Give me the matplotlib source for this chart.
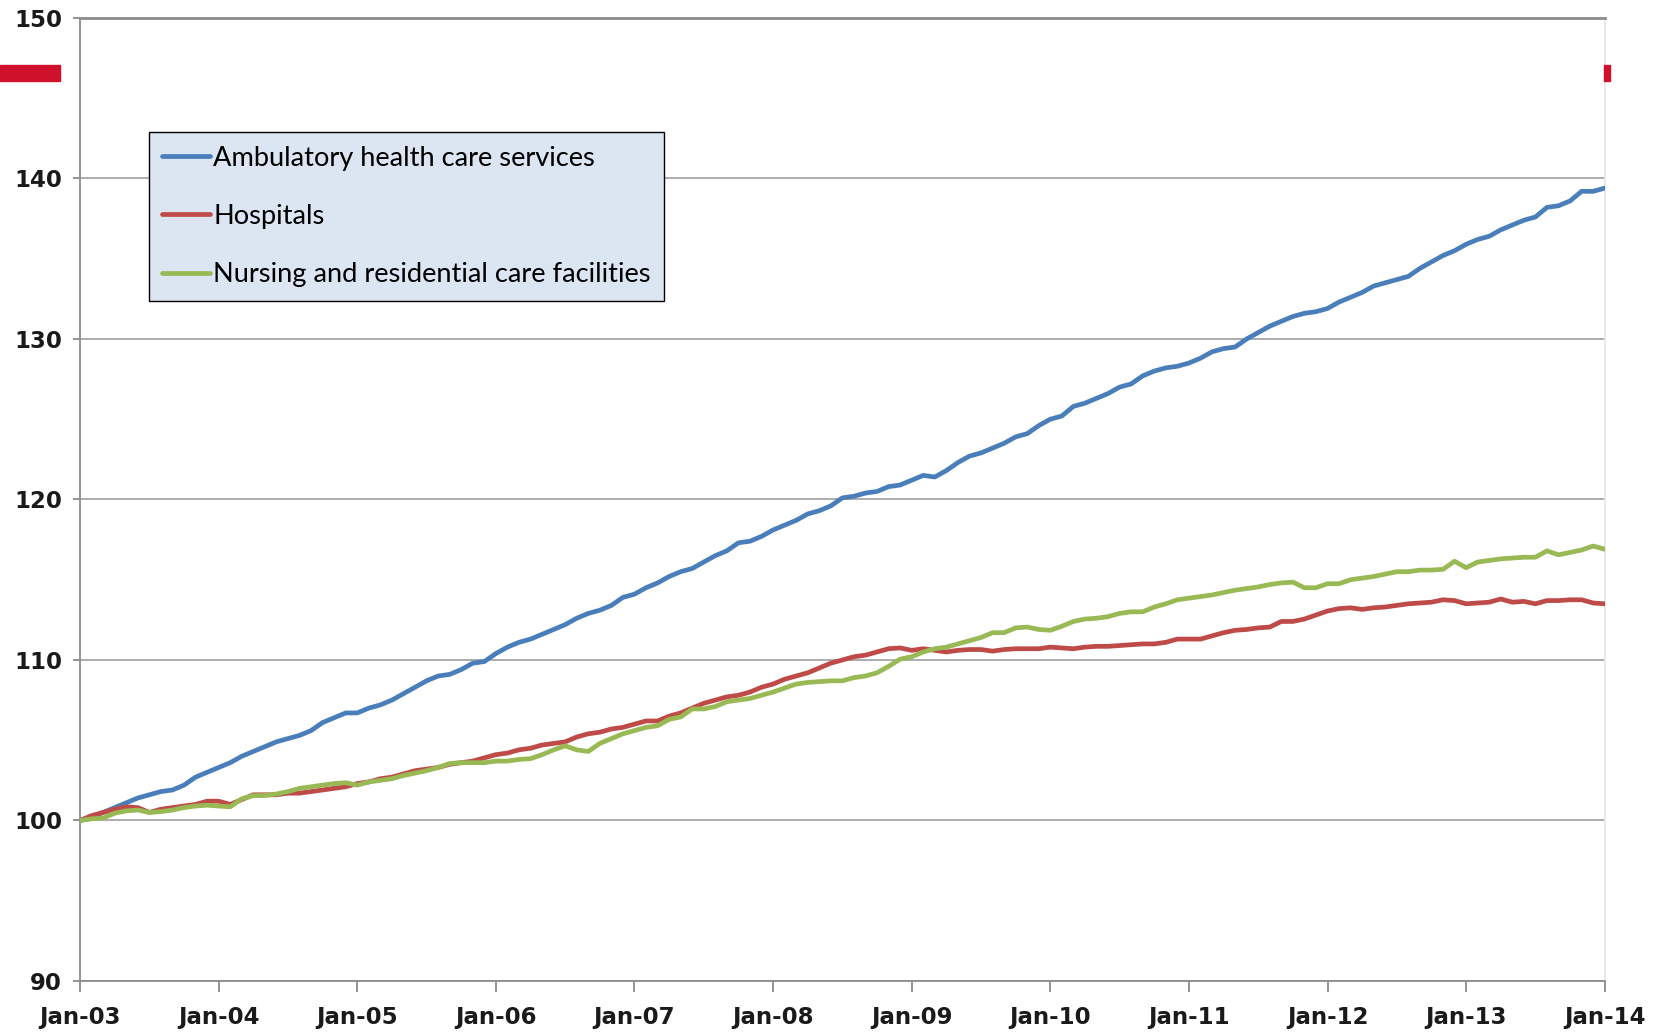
import matplotlib
matplotlib.use("Agg")
import matplotlib.pyplot as plt
from matplotlib.patches import Rectangle
import numpy as np

# Index values (Jan-03 = 100), monthly Jan-03 .. Jan-14
ambulatory = [
    100.0, 100.2, 100.5, 100.8, 101.1, 101.4, 101.6, 101.8, 101.9, 102.2,
    102.7, 103.0, 103.3, 103.6, 104.0, 104.3, 104.6, 104.9, 105.1, 105.3,
    105.6, 106.1, 106.4, 106.7, 106.7, 107.0, 107.2, 107.5, 107.9, 108.3,
    108.7, 109.0, 109.1, 109.4, 109.8, 109.9, 110.4, 110.8, 111.1, 111.3,
    111.6, 111.9, 112.2, 112.6, 112.9, 113.1, 113.4, 113.9, 114.1, 114.5,
    114.8, 115.2, 115.5, 115.7, 116.1, 116.5, 116.8, 117.3, 117.4, 117.7,
    118.1, 118.4, 118.7, 119.1, 119.3, 119.6, 120.1, 120.2, 120.4, 120.5,
    120.8, 120.9, 121.2, 121.5, 121.4, 121.8, 122.3, 122.7, 122.9, 123.2,
    123.5, 123.9, 124.1, 124.6, 125.0, 125.2, 125.8, 126.0, 126.3, 126.6,
    127.0, 127.2, 127.7, 128.0, 128.2, 128.3, 128.5, 128.8, 129.2, 129.4,
    129.5, 130.0, 130.4, 130.8, 131.1, 131.4, 131.6, 131.7, 131.9, 132.3,
    132.6, 132.9, 133.3, 133.5, 133.7, 133.9, 134.4, 134.8, 135.2, 135.5,
    135.9, 136.2, 136.4, 136.8, 137.1, 137.4, 137.6, 138.2, 138.3, 138.6,
    139.2, 139.2, 139.4,
]

hospitals = [
    100.0, 100.3, 100.5, 100.7, 100.85, 100.8, 100.5, 100.7, 100.8, 100.9,
    101.0, 101.2, 101.2, 101.0, 101.3, 101.6, 101.6, 101.6, 101.7, 101.7,
    101.8, 101.9, 102.0, 102.1, 102.3, 102.4, 102.6, 102.7, 102.9, 103.1,
    103.2, 103.3, 103.5, 103.6, 103.7, 103.9, 104.1, 104.2, 104.4, 104.5,
    104.7, 104.8, 104.9, 105.2, 105.4, 105.5, 105.7, 105.8, 106.0, 106.2,
    106.2, 106.5, 106.7, 107.0, 107.3, 107.5, 107.7, 107.8, 108.0, 108.3,
    108.5, 108.8, 109.0, 109.2, 109.5, 109.8, 110.0, 110.2, 110.3, 110.5,
    110.7, 110.75, 110.6, 110.7, 110.6, 110.5, 110.6, 110.65, 110.65, 110.55,
    110.65, 110.7, 110.7, 110.7, 110.8, 110.75, 110.7, 110.8, 110.85, 110.85,
    110.9, 110.95, 111.0, 111.0, 111.1, 111.3, 111.3, 111.3, 111.5, 111.7,
    111.85, 111.9, 112.0, 112.05, 112.4, 112.4, 112.55, 112.8, 113.05, 113.2,
    113.25, 113.15, 113.25, 113.3, 113.4, 113.5, 113.55, 113.6, 113.75, 113.7,
    113.5, 113.55, 113.6, 113.8, 113.6, 113.65, 113.5, 113.7, 113.7, 113.75,
    113.75, 113.55, 113.5,
]

nursing = [
    100.0, 100.1, 100.15, 100.45, 100.6, 100.65, 100.5, 100.55, 100.65, 100.8,
    100.9, 100.95, 100.9, 100.85, 101.35, 101.55, 101.55, 101.65, 101.8, 102.0,
    102.1, 102.2, 102.3, 102.35, 102.2, 102.4, 102.5, 102.6, 102.8, 102.95,
    103.1, 103.3, 103.55, 103.6, 103.6, 103.6, 103.7, 103.7, 103.8, 103.85,
    104.1, 104.4, 104.65, 104.4, 104.3, 104.8, 105.1, 105.4, 105.6, 105.8,
    105.9, 106.3, 106.45, 106.95, 106.95, 107.1, 107.4, 107.5, 107.6, 107.8,
    108.0, 108.25, 108.5, 108.6, 108.65, 108.7, 108.7, 108.9, 109.0, 109.2,
    109.6, 110.05, 110.2, 110.5, 110.7, 110.8, 111.0, 111.2, 111.4, 111.7,
    111.7, 112.0, 112.05, 111.9, 111.85, 112.1, 112.4, 112.55, 112.6, 112.7,
    112.9, 113.0, 113.0, 113.3, 113.5, 113.75, 113.85, 113.95, 114.05, 114.2,
    114.35, 114.45, 114.55, 114.7, 114.8, 114.85, 114.5, 114.5, 114.75, 114.75,
    115.0, 115.1, 115.2, 115.35, 115.5, 115.5, 115.6, 115.6, 115.65, 116.15,
    115.75, 116.1, 116.2, 116.3, 116.35, 116.4, 116.4, 116.8, 116.55, 116.7,
    116.85, 117.1, 116.9,
]

year_labels = ["Jan-03", "Jan-04", "Jan-05", "Jan-06", "Jan-07", "Jan-08",
               "Jan-09", "Jan-10", "Jan-11", "Jan-12", "Jan-13", "Jan-14"]
y_ticks = [90, 100, 110, 120, 130, 140, 150]

series_names = ["Ambulatory health care services", "Hospitals",
                "Nursing and residential care facilities"]
series_colors = ["#4A7EBB", "#BE4B48", "#98B954"]

tick_font = ["Liberation Sans Narrow", "DejaVu Sans Condensed", "DejaVu Sans"]
legend_font = ["Lato", "DejaVu Sans"]

fig = plt.figure(figsize=(16.54, 10.34), dpi=100)
ax = fig.add_axes([0.0484, 0.0513, 0.9218, 0.9313])

months = np.arange(len(ambulatory))
for vals, name, col in zip([ambulatory, hospitals, nursing], series_names, series_colors):
    ax.plot(months, vals, color=col, lw=3.4, label=name, solid_capstyle="round", zorder=3)

ax.set_xlim(0, len(ambulatory) - 1)
ax.set_ylim(90, 150)
ax.set_yticks(y_ticks)
ax.set_xticks(np.arange(0, len(ambulatory), 12))
ax.set_xticklabels(year_labels)

ax.grid(axis="y", color="#A6A6A6", lw=1.3, zorder=1)
for side in ["left", "bottom", "top"]:
    ax.spines[side].set_color("#8C8C8C")
    ax.spines[side].set_linewidth(1.3)
ax.spines["top"].set_linewidth(2.0)
ax.spines["right"].set_color("#E6E6E6")
ax.spines["right"].set_linewidth(1.3)

ax.tick_params(axis="x", direction="out", length=8, width=1.3, color="#8C8C8C", pad=10)
ax.tick_params(axis="y", direction="out", length=5, width=1.3, color="#8C8C8C", pad=8)
for lab in ax.get_xticklabels() + ax.get_yticklabels():
    lab.set_fontfamily(tick_font)
    lab.set_fontweight("bold")
    lab.set_fontsize(16.5)
    lab.set_color("#1a1a1a")

leg = ax.legend(loc="upper left", bbox_to_anchor=(0.045, 0.8816), borderaxespad=0,
                frameon=True, fancybox=False, handlelength=1.75, handletextpad=0.12,
                labelspacing=1.22, borderpad=0.5,
                prop={"family": legend_font, "size": 19.6})
frame = leg.get_frame()
frame.set_facecolor("#DCE6F2")
frame.set_edgecolor("#000000")
frame.set_linewidth(1.0)
frame.set_alpha(1.0)

# red marker bars at the figure edges
fig.patches.append(Rectangle((0, 1 - 81 / 1034), 60 / 1654, 16 / 1034,
                             transform=fig.transFigure, color="#D0112B", zorder=5))
fig.patches.append(Rectangle((1604 / 1654, 1 - 81 / 1034), 6 / 1654, 16 / 1034,
                             transform=fig.transFigure, color="#D0112B", zorder=5))

fig.savefig("out.png", dpi=100)
